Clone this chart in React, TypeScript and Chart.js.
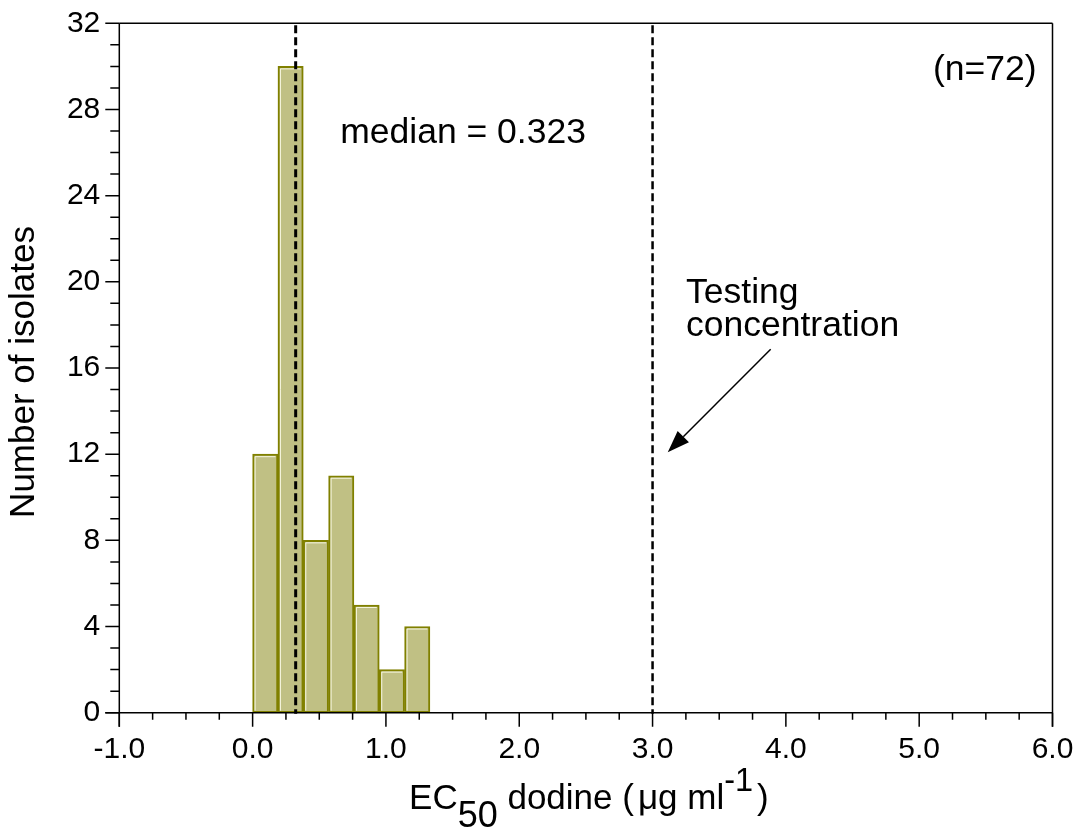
import React, { useEffect, useRef } from 'react';
import { Chart, registerables } from 'chart.js';

Chart.register(...registerables);

// ---- data ----
const binStarts = [0, 0.19, 0.38, 0.57, 0.76, 0.95, 1.14];
const binWidth = 0.19;
const isolateCounts = [12, 30, 8, 11, 5, 2, 4];
const xRange = [-1, 6];
const yRange = [0, 32];
const xMajorStep = 1;
const xMinorStep = 0.25;
const yMajorStep = 4;
const yMinorStep = 1;
const medianValue = 0.323;
const testingConcentration = 3.0;
const medianLabel = 'median = 0.323';
const sampleLabel = '(n=72)';
const testingLabelLines = ['Testing', 'concentration'];
const yTitle = 'Number of isolates';
// annotation anchors in data units
const medianLabelPos = [0.657, 26.46];
const sampleLabelPos = [5.88, 29.37];
const testingLabelPos = [3.251, 19.03, 17.48];
const arrowFrom = [3.886, 16.87];
const arrowTo = [3.114, 12.09];

const FONT = '"Liberation Sans", Arial, Helvetica, sans-serif';

const decorPlugin = {
  id: 'decor',
  afterDatasetsDraw(chart: any) {
    const ctx = chart.ctx as CanvasRenderingContext2D;
    const xs = chart.scales.x;
    const ys = chart.scales.y;
    const { left, right, top, bottom } = chart.chartArea;

    ctx.save();
    // bar highlights
    const meta = chart.getDatasetMeta(0);
    ctx.strokeStyle = 'rgba(255,255,240,0.85)';
    ctx.lineWidth = 1;
    meta.data.forEach((el: any) => {
      const p = el.getProps(['x', 'y', 'base', 'width'], true);
      const l = p.x - p.width / 2 + 2.5;
      const r = p.x + p.width / 2 - 2.5;
      ctx.beginPath();
      ctx.moveTo(l, p.base - 2);
      ctx.lineTo(l, p.y + 2.5);
      ctx.lineTo(r, p.y + 2.5);
      ctx.stroke();
    });

    // axes + frame
    ctx.strokeStyle = '#000';
    ctx.lineWidth = 1.5;
    const majLen = 14;
    ctx.beginPath();
    ctx.moveTo(left, top);
    ctx.lineTo(left, bottom + majLen);
    ctx.moveTo(left - majLen, bottom);
    ctx.lineTo(right, bottom);
    ctx.moveTo(left, top);
    ctx.lineTo(right, top);
    ctx.moveTo(right, top);
    ctx.lineTo(right, bottom + majLen);
    ctx.stroke();

    // y ticks
    ctx.beginPath();
    for (let v = yRange[0]; v <= yRange[1] + 1e-9; v += yMinorStep) {
      const py = ys.getPixelForValue(v);
      const major = Math.abs(v / yMajorStep - Math.round(v / yMajorStep)) < 1e-6;
      ctx.moveTo(left - (major ? majLen : 9), py);
      ctx.lineTo(left, py);
    }
    // x ticks
    for (let v = xRange[0]; v <= xRange[1] + 1e-9; v += xMinorStep) {
      const px = xs.getPixelForValue(v);
      const major = Math.abs(v / xMajorStep - Math.round(v / xMajorStep)) < 1e-6;
      ctx.moveTo(px, bottom);
      ctx.lineTo(px, bottom + (major ? majLen : 7));
    }
    ctx.stroke();

    // dashed reference lines
    ctx.setLineDash([8, 4]);
    ctx.lineWidth = 3;
    let px = xs.getPixelForValue(medianValue);
    ctx.beginPath();
    ctx.moveTo(px, top + 2);
    ctx.lineTo(px, bottom + 1);
    ctx.stroke();
    ctx.lineWidth = 2.5;
    px = xs.getPixelForValue(testingConcentration);
    ctx.beginPath();
    ctx.moveTo(px, top + 2);
    ctx.lineTo(px, bottom + 1);
    ctx.stroke();
    ctx.setLineDash([]);

    // texts
    ctx.fillStyle = '#000';
    ctx.textBaseline = 'alphabetic';
    ctx.font = `35.5px ${FONT}`;
    ctx.textAlign = 'left';
    ctx.fillText(medianLabel, xs.getPixelForValue(medianLabelPos[0]), ys.getPixelForValue(medianLabelPos[1]));
    ctx.textAlign = 'right';
    ctx.fillText(sampleLabel, xs.getPixelForValue(sampleLabelPos[0]), ys.getPixelForValue(sampleLabelPos[1]));
    ctx.textAlign = 'left';
    ctx.fillText(testingLabelLines[0], xs.getPixelForValue(testingLabelPos[0]), ys.getPixelForValue(testingLabelPos[1]));
    ctx.fillText(testingLabelLines[1], xs.getPixelForValue(testingLabelPos[0]), ys.getPixelForValue(testingLabelPos[2]));

    // arrow
    const ax0 = xs.getPixelForValue(arrowFrom[0]);
    const ay0 = ys.getPixelForValue(arrowFrom[1]);
    const ax1 = xs.getPixelForValue(arrowTo[0]);
    const ay1 = ys.getPixelForValue(arrowTo[1]);
    const ang = Math.atan2(ay1 - ay0, ax1 - ax0);
    const headLen = 22;
    const headHalf = 8;
    const bx = ax1 - headLen * Math.cos(ang);
    const by = ay1 - headLen * Math.sin(ang);
    ctx.lineWidth = 1.5;
    ctx.beginPath();
    ctx.moveTo(ax0, ay0);
    ctx.lineTo(bx, by);
    ctx.stroke();
    ctx.beginPath();
    ctx.moveTo(ax1, ay1);
    ctx.lineTo(bx + headHalf * Math.sin(ang), by - headHalf * Math.cos(ang));
    ctx.lineTo(bx - headHalf * Math.sin(ang), by + headHalf * Math.cos(ang));
    ctx.closePath();
    ctx.fill();

    // y title
    ctx.save();
    ctx.translate(34, (top + bottom) / 2 + 4);
    ctx.rotate(-Math.PI / 2);
    ctx.textAlign = 'center';
    ctx.font = `35px ${FONT}`;
    ctx.fillText(yTitle, 0, 0);
    ctx.restore();

    // x title with sub/superscript
    const pieces = [
      { t: 'EC', s: 35, dy: 0, gap: 0 },
      { t: '50', s: 36, dy: 18, gap: 0 },
      { t: ' dodine (', s: 35, dy: 0, gap: 4 },
      { t: 'μg ml', s: 35, dy: 0, gap: 0 },
      { t: '-1', s: 32.5, dy: -18, gap: 4 },
      { t: ')', s: 35, dy: 0, gap: 0 },
    ];
    let total = 0;
    const widths = pieces.map((p) => {
      ctx.font = `${p.s}px ${FONT}`;
      const w = ctx.measureText(p.t).width + p.gap;
      total += w;
      return w;
    });
    let cx = (left + right) / 2 + 3 - total / 2;
    const baseY = 808.5;
    ctx.textAlign = 'left';
    pieces.forEach((p, i) => {
      ctx.font = `${p.s}px ${FONT}`;
      ctx.fillText(p.t, cx, baseY + p.dy);
      cx += widths[i];
    });

    ctx.restore();
  },
};

export default function App() {
  const canvasRef = useRef<HTMLCanvasElement | null>(null);

  useEffect(() => {
    const canvas = canvasRef.current;
    if (!canvas) return;
    const chart = new Chart(canvas, {
      type: 'bar',
      data: {
        datasets: [
          {
            data: binStarts.map((s, i) => ({ x: s + binWidth / 2, y: isolateCounts[i] })),
            backgroundColor: 'rgb(192,192,132)',
            borderColor: 'rgb(128,128,0)',
            borderWidth: 2,
            borderSkipped: false,
            barPercentage: 1,
            categoryPercentage: 1,
          },
        ],
      },
      options: {
        responsive: false,
        animation: false,
        devicePixelRatio: 1,
        layout: { padding: { top: 23.3, right: 25.5, left: 0, bottom: 0 } },
        plugins: {
          legend: { display: false },
          tooltip: { enabled: false },
          title: { display: false },
        },
        scales: {
          x: {
            type: 'linear',
            min: xRange[0],
            max: xRange[1],
            offset: false,
            grid: { display: false, drawTicks: false, offset: false },
            border: { display: false },
            ticks: {
              stepSize: xMajorStep,
              autoSkip: false,
              maxRotation: 0,
              padding: 19,
              color: '#000',
              font: { family: FONT, size: 30 },
              callback: (v: any) => Number(v).toFixed(1),
            },
            afterFit: (s: any) => {
              s.height = 114.3;
              s.paddingLeft = 0;
              s.paddingRight = 0;
            },
          },
          y: {
            type: 'linear',
            min: yRange[0],
            max: yRange[1],
            grid: { display: false, drawTicks: false },
            border: { display: false },
            ticks: {
              stepSize: yMajorStep,
              padding: 19,
              color: '#000',
              font: { family: FONT, size: 30 },
            },
            afterFit: (s: any) => {
              s.width = 119.3;
              s.paddingTop = 0;
              s.paddingBottom = 0;
            },
          },
        },
      },
      plugins: [decorPlugin],
    } as any);
    return () => chart.destroy();
  }, []);

  return (
    <div style={{ position: 'fixed', left: 0, top: 0, width: 1078, height: 827, background: '#fff' }}>
      <canvas ref={canvasRef} width={1078} height={827} style={{ width: 1078, height: 827 }} />
    </div>
  );
}
